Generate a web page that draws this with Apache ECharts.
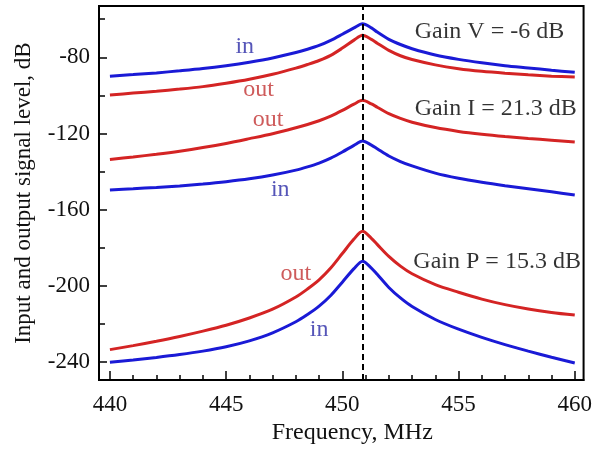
<!DOCTYPE html>
<html>
<head>
<meta charset="utf-8">
<script src="https://cdn.jsdelivr.net/npm/echarts@6/dist/echarts.min.js"></script>
<style>html,body{margin:0;padding:0;background:#fff}#c{width:595px;height:450px}</style>
</head>
<body>
<div id="c"></div>
<script>
// Frequency samples (MHz)
const freq = [440,441,442,443,444,445,446,447,448,448.5,449,449.5,450,450.5,450.87,451.25,451.5,452,452.5,453,454,455,456,457,458,459,460];
// Gain V (voltage) curves, dB
const vIn  = [-89.9,-89.1,-88.2,-87.1,-85.9,-84.4,-82.6,-80.4,-77.5,-75.8,-73.8,-71.1,-67.9,-64.6,-62.4,-64.6,-66.8,-70.6,-73.3,-75.5,-78.8,-81.1,-82.9,-84.4,-85.6,-86.8,-87.9];
const vOut = [-99.8,-98.8,-97.8,-96.7,-95.4,-93.6,-91.5,-88.9,-85.7,-83.8,-81.7,-79.0,-75.2,-71.0,-68.5,-70.6,-72.6,-76.4,-79.2,-81.2,-84.0,-86.0,-87.4,-88.4,-89.2,-89.9,-90.4];
// Gain I (current) curves, dB
const iOut = [-133.6,-132.3,-130.9,-129.3,-127.4,-125.2,-122.7,-120.1,-117.0,-115.3,-113.3,-110.9,-107.9,-104.6,-102.6,-104.5,-106.2,-109.6,-112.1,-114.1,-116.9,-118.9,-120.4,-121.6,-122.6,-123.5,-124.4];
const iIn  = [-149.6,-149.0,-148.3,-147.5,-146.5,-145.3,-143.8,-141.8,-139.2,-137.5,-135.5,-132.9,-129.7,-126.2,-124.0,-126.1,-128.0,-131.8,-134.7,-137.0,-140.8,-143.5,-145.6,-147.4,-149.0,-150.6,-152.3];
// Gain P (power) curves, dB
const pOut = [-233.4,-231.3,-229.0,-226.5,-223.7,-220.6,-216.8,-212.2,-205.8,-201.6,-196.8,-190.6,-183.0,-175.4,-171.3,-175.0,-178.2,-184.5,-189.6,-193.6,-199.3,-203.3,-206.9,-209.8,-212.1,-213.9,-215.3];
const pIn  = [-240.0,-238.8,-237.5,-236.0,-234.2,-231.9,-228.8,-224.6,-218.8,-215.0,-210.6,-205.0,-198.0,-190.9,-187.0,-190.6,-193.9,-200.8,-206.3,-210.8,-217.6,-222.7,-227.0,-230.8,-234.2,-237.4,-240.4];
// Resonance frequency marker
const resonance = 450.87;
// Axis ticks
const xMajor = [440,445,450,455,460];
const xMinor = [441,442,443,444,446,447,448,449,451,452,453,454,456,457,458,459];
const yMajor = [-240,-200,-160,-120,-80];
const yMinor = [-220,-180,-140,-100,-60];
// Annotations: text, frequency, level
const annText = ['in','out','out','in','out','in','Gain V = -6 dB','Gain I = 21.3 dB','Gain P = 15.3 dB'];
const annFreq = [445.8,446.4,446.8,447.33,448.0,449.0,456.33,456.6,456.66];
const annLevel = [-74.4,-96.8,-113.0,-149.5,-193.7,-222.9,-66.6,-107.2,-187.4];
const annKind = ['in','out','out','in','out','in','gain','gain','gain'];

const BLUE = '#1a1ad6', RED = '#d42424';
const FONT = 'Liberation Serif';
const zip = ys => freq.map((f,i)=>[f, ys[i]]);
const kindColor = {in:'#2b2ba6', out:'#c23232', gain:'#000'};

const xMin = 439.53, xMax = 460.38, yMin = -249.4, yMax = -53.1;

const lineSeries = (data, color) => ({
  type:'line', data: zip(data), showSymbol:false, smooth:0.3,
  lineStyle:{color, width:3}, itemStyle:{color}, z:3, silent:true
});

const chart = echarts.init(document.getElementById('c'), null, {renderer:'canvas'});
chart.setOption({
  animation:false,
  backgroundColor:'#fff',
  textStyle:{fontFamily:FONT},
  grid:{left:99, right:7, top:6, bottom:67, show:true, borderColor:'#000', borderWidth:2, backgroundColor:'transparent'},
  xAxis:[{
    type:'value', min:xMin, max:xMax,
    name:'Frequency, MHz', nameLocation:'middle', nameGap:39,
    nameTextStyle:{fontFamily:FONT, fontSize:24, color:'#111', padding:[0,0,0,22]},
    axisLine:{show:true, lineStyle:{color:'#000', width:2}},
    axisTick:{show:true, inside:true, length:9, lineStyle:{color:'#000', width:1.5}, customValues:xMajor},
    axisLabel:{show:true, margin:13, fontFamily:FONT, fontSize:23, color:'#111', customValues:xMajor},
    splitLine:{show:false}
  },{
    type:'value', min:xMin, max:xMax, position:'bottom',
    axisLine:{show:false},
    axisTick:{show:true, inside:true, length:5, lineStyle:{color:'#000', width:1.5}, customValues:xMinor},
    axisLabel:{show:false}, splitLine:{show:false}
  }],
  yAxis:[{
    type:'value', min:yMin, max:yMax,
    name:'Input and output signal level, dB', nameLocation:'middle', nameGap:64,
    nameTextStyle:{fontFamily:FONT, fontSize:23, color:'#111'},
    axisLine:{show:true, lineStyle:{color:'#000', width:2}},
    axisTick:{show:true, inside:true, length:8, lineStyle:{color:'#000', width:1.5}, customValues:yMajor},
    axisLabel:{show:true, margin:9, fontFamily:FONT, fontSize:23, color:'#111', customValues:yMajor},
    splitLine:{show:false}
  },{
    type:'value', min:yMin, max:yMax, position:'left',
    axisLine:{show:false},
    axisTick:{show:true, inside:true, length:6, lineStyle:{color:'#000', width:1.5}, customValues:yMinor},
    axisLabel:{show:false}, splitLine:{show:false}
  }],
  series:[
    lineSeries(vIn, BLUE),
    lineSeries(vOut, RED),
    lineSeries(iOut, RED),
    lineSeries(iIn, BLUE),
    lineSeries(pOut, RED),
    Object.assign(lineSeries(pIn, BLUE), {
      markLine:{silent:true, symbol:['none','none'], label:{show:false},
        lineStyle:{color:'#000', type:[6,4], width:2},
        data:[{xAxis:resonance}]}
    }),
    {
      type:'scatter', symbolSize:0, silent:true, z:5,
      data: annText.map((t,i)=>({name:t, value:[annFreq[i], annLevel[i]],
        label:{color:kindColor[annKind[i]]}})),
      label:{show:true, position:'inside', formatter:p=>p.name, fontFamily:FONT, fontSize:24}
    }
  ]
});
</script>
</body>
</html>
